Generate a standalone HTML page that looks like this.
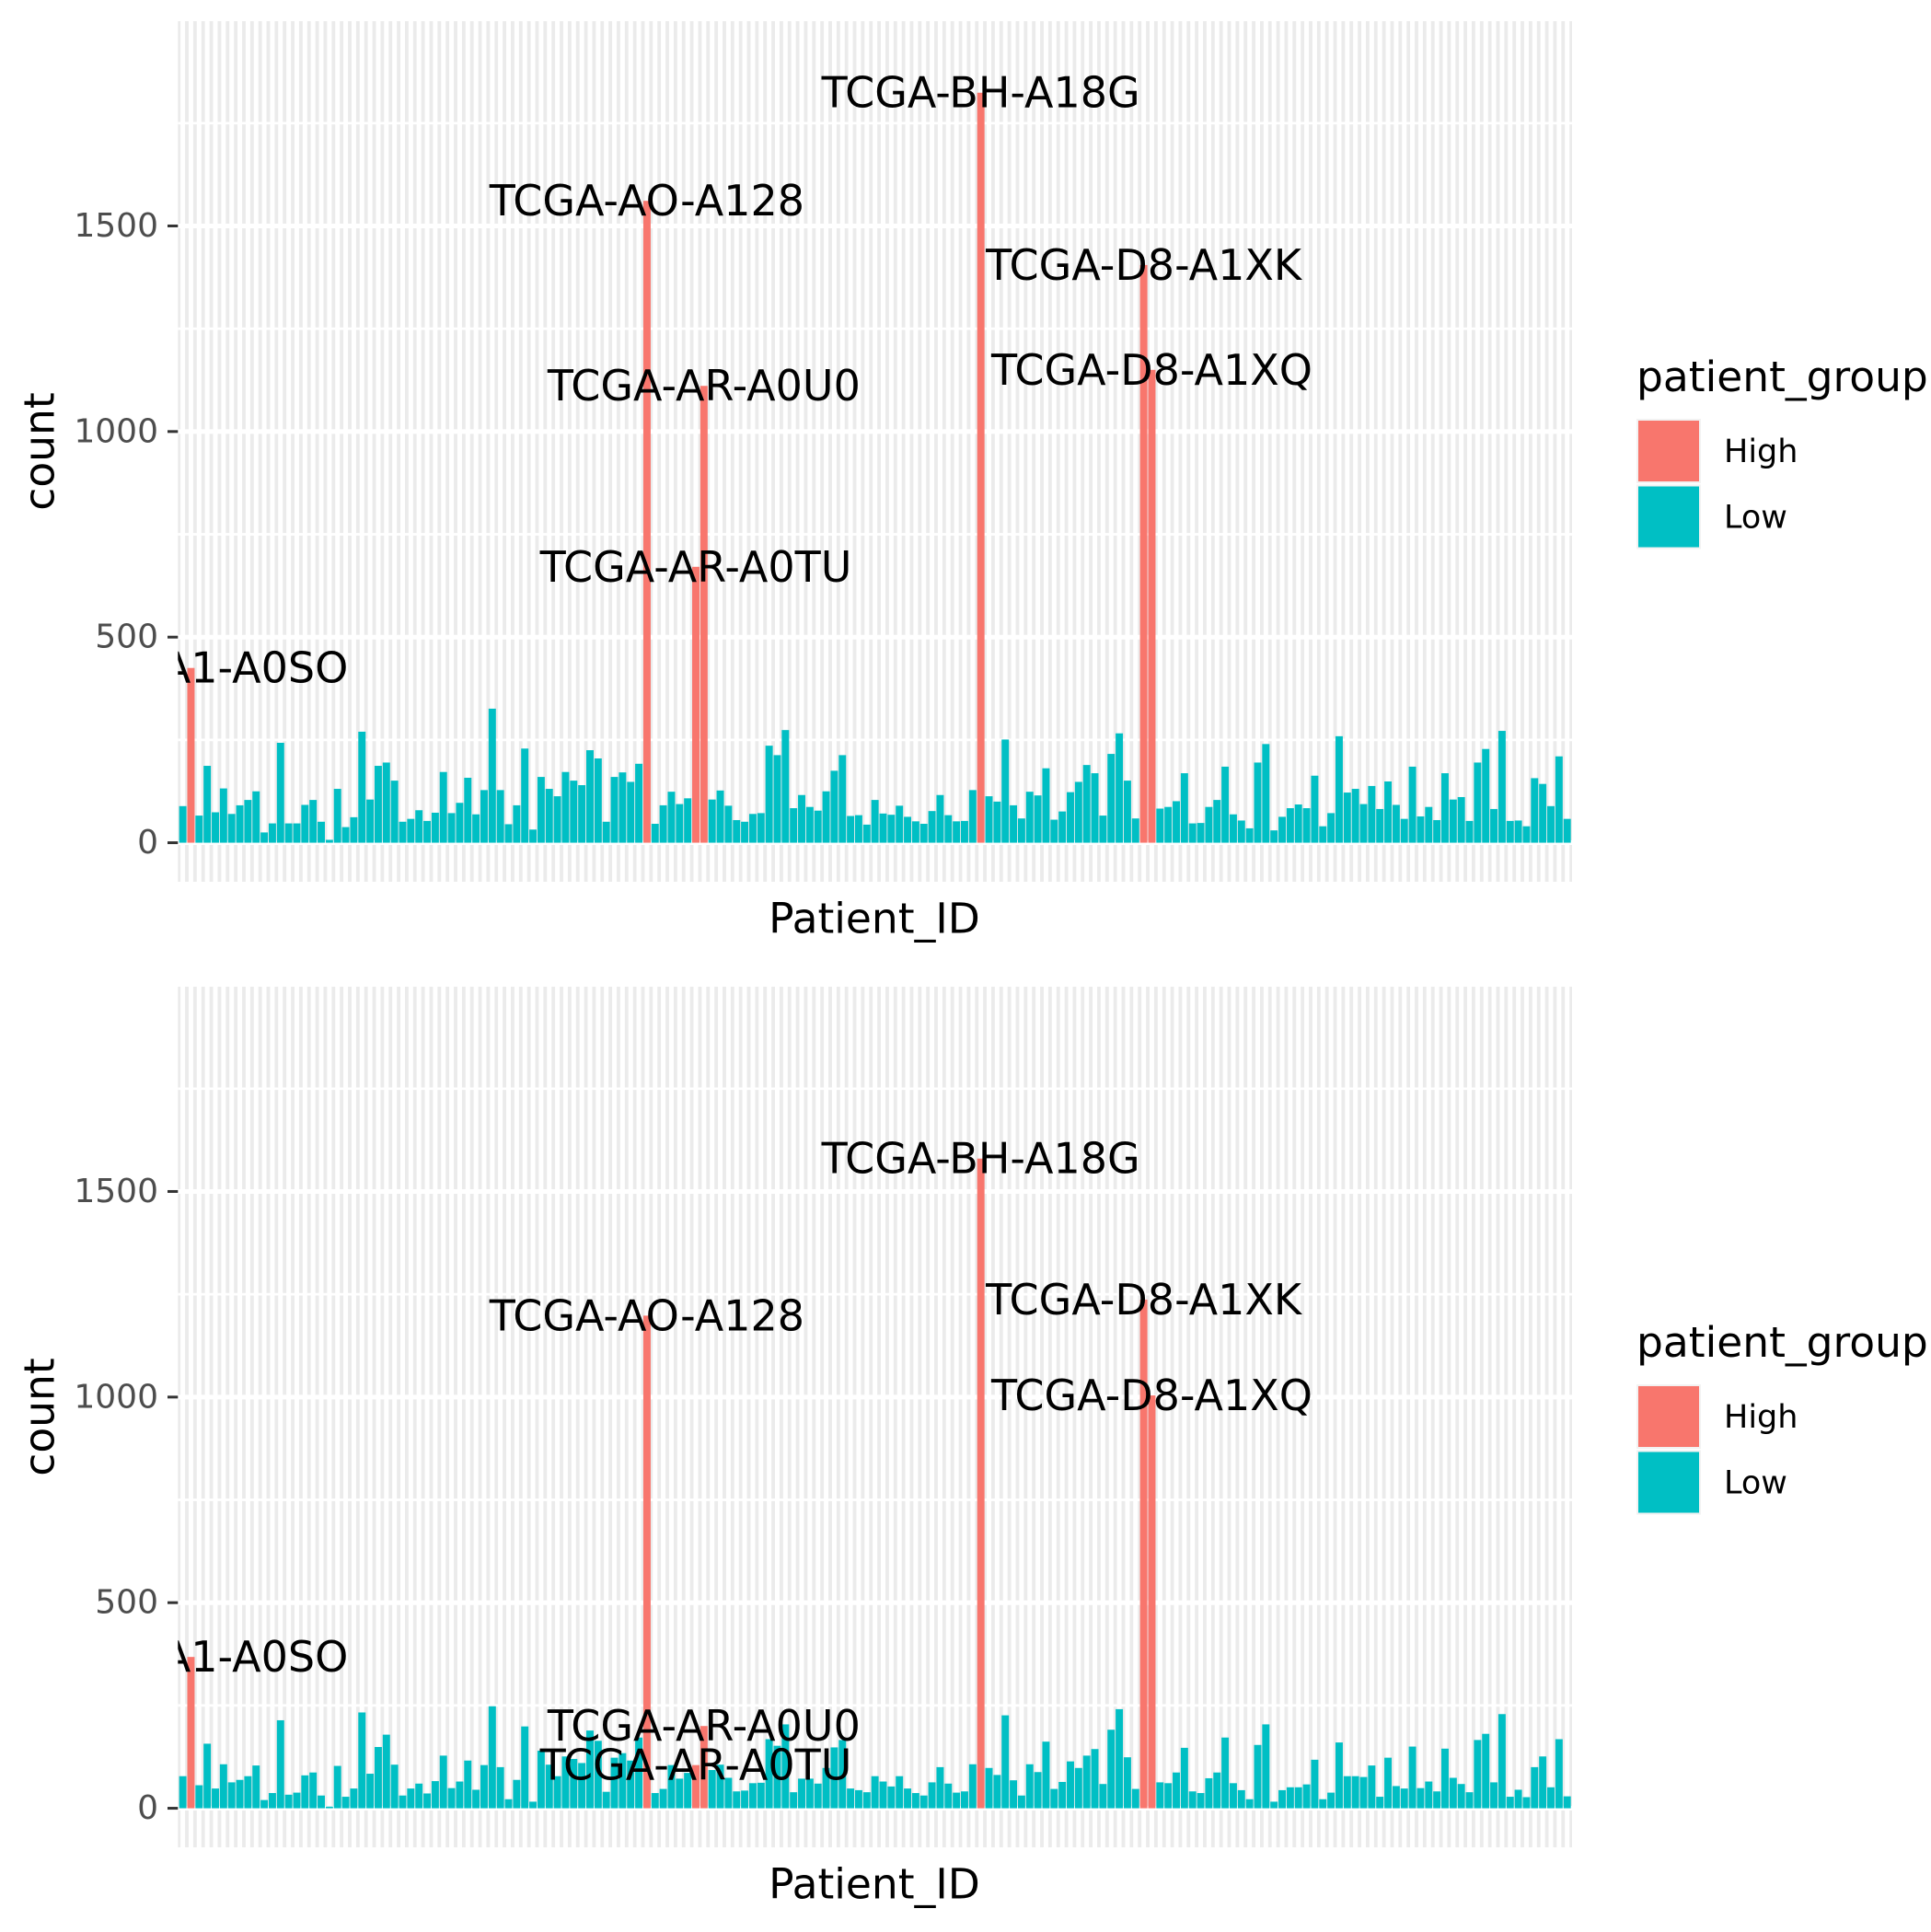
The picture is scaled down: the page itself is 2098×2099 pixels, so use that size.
<!DOCTYPE html>
<html><head><meta charset="utf-8"><style>
html,body{margin:0;padding:0;background:#fff;}
svg{display:block;font-family:"DejaVu Sans","Liberation Sans",sans-serif;}
</style></head>
<body>
<svg id="chart" width="2098" height="2099" viewBox="0 0 2098 2099" xmlns="http://www.w3.org/2000/svg"></svg>
<script>
const topCounts = [89,425,66,187,74,132,70,91,104,125,25,47,243,47,47,92,104,51,7,131,38,62,270,105,187,195,151,51,58,79,53,73,172,72,97,158,69,128,326,128,45,91,229,32,160,131,113,172,151,140,225,205,51,160,171,148,192,1561,46,91,124,94,108,671,1111,105,127,90,55,51,70,72,236,213,274,84,116,87,78,125,175,213,65,67,44,104,71,68,90,63,52,46,77,116,67,52,53,128,1824,113,100,251,91,59,124,115,181,56,76,123,148,189,169,66,216,266,151,59,1405,1150,83,87,101,169,47,48,87,104,185,69,54,35,195,240,30,63,84,93,84,163,40,72,259,122,131,94,138,82,149,92,58,185,64,87,55,169,105,111,53,195,228,82,272,53,54,40,157,143,89,210,58];
const bottomCounts = [78,368,56,157,48,107,63,69,78,104,20,37,214,33,38,80,87,31,4,103,28,48,233,84,149,179,106,31,48,60,36,66,128,49,65,116,45,105,248,100,22,69,199,16,140,106,78,126,120,110,189,164,40,123,134,116,172,1198,37,47,105,72,86,105,200,93,106,74,41,43,61,62,168,152,204,39,72,72,60,98,148,166,48,44,39,78,65,53,78,48,37,31,63,100,60,38,41,107,1580,98,81,226,68,31,107,88,162,47,64,114,98,128,144,59,191,241,124,47,1237,1004,63,61,87,147,41,37,73,87,172,61,44,22,154,204,16,44,51,51,58,118,22,38,160,78,78,76,104,28,123,54,48,150,49,65,41,145,74,59,39,166,181,63,229,28,45,27,100,126,51,168,29];
const highIndices = [2,58,64,65,99,119,120];
const labelIndices = [2,58,64,65,99,119,120];
const labelNames = ["TCGA-A1-A0SO","TCGA-AO-A128","TCGA-AR-A0TU","TCGA-AR-A0U0","TCGA-BH-A18G","TCGA-D8-A1XK","TCGA-D8-A1XQ"];
const yTicks = [0,500,1000,1500];
const yMinor = [250,750,1250,1750];
const groupNames = ["High","Low"];

const NS = "http://www.w3.org/2000/svg";
const svg = document.getElementById('chart');
const PX0 = 193.3, PX1 = 1708, PH = 935;
const N = topCounts.length;
const YMIN = -95, YMAX = 1998;
const COLORS = {High:"#F8766D", Low:"#00BFC4"};
const step = (PX1 - PX0) / (N - 1 + 1.2);
function xScale(i){ return PX0 + (i + 0.6) * step; }
function yScale(v, top){ return top + PH - (v - YMIN) / (YMAX - YMIN) * PH; }
function mk(tag, attrs, parent){
  const e = document.createElementNS(NS, tag);
  for (const k in attrs) e.setAttribute(k, attrs[k]);
  (parent || svg).appendChild(e);
  return e;
}

function drawPanel(counts, top, idx){
  const g = mk('g', {});
  
  
  const clipId = 'clip' + idx;
  const cp = mk('clipPath', {id: clipId}, g);
  mk('rect', {x: PX0, y: top, width: PX1 - PX0, height: PH}, cp);
  const bg = mk('rect', {x: PX0, y: top, width: PX1 - PX0, height: PH, fill: '#EBEBEB'}, g);
  
  
  yMinor.forEach(v => {
    const l = mk('line', {x1: PX0, x2: PX1, y1: yScale(v, top), y2: yScale(v, top), stroke: '#fff', 'stroke-width': 2.7}, g);
    
    
  });
  yTicks.forEach(v => {
    const l = mk('line', {x1: PX0, x2: PX1, y1: yScale(v, top), y2: yScale(v, top), stroke: '#fff', 'stroke-width': 5}, g);
    
    
  });
  for (let i = 0; i < N; i++){
    const l = mk('line', {x1: xScale(i), x2: xScale(i), y1: top, y2: top + PH, stroke: '#fff', 'stroke-width': 5}, g);
    
    
  }
  for (let i = 0; i < N; i++){
    const grp = highIndices.includes(i + 1) ? 'High' : 'Low';
    const bw = step * 0.9;
    const y0 = yScale(0, top), y1 = yScale(counts[i], top);
    const r = mk('rect', {x: xScale(i) - bw / 2, y: Math.min(y0, y1), width: bw, height: Math.abs(y0 - y1), fill: COLORS[grp]}, g);
    
    
  }
  const lg = mk('g', {'clip-path': 'url(#' + clipId + ')'}, g);
  labelIndices.forEach((ix, k) => {
    const t = mk('text', {x: xScale(ix - 1), y: yScale(counts[ix - 1], top), 'font-size': 46, 'text-anchor': 'middle', 'dominant-baseline': 'central', fill: '#000'}, lg);
    t.textContent = labelNames[k];
    
    
  });
  yTicks.forEach(v => {
    const y = yScale(v, top);
    const tk = mk('line', {x1: 182, x2: PX0, y1: y, y2: y, stroke: '#333', 'stroke-width': 3}, g);
    
    
    const t = mk('text', {x: 172, y: y, 'font-size': 36, 'text-anchor': 'end', 'dominant-baseline': 'central', fill: '#4D4D4D'}, g);
    t.textContent = v;
    
    
  });
  const yt = mk('text', {x: 0, y: 0, 'font-size': 45.5, 'text-anchor': 'middle', 'dominant-baseline': 'central', fill: '#000', transform: 'translate(43,' + (top + PH / 2) + ') rotate(-90)'}, g);
  yt.textContent = 'count';
  
  
  const xt = mk('text', {x: 950, y: top + PH + 40, 'font-size': 45.5, 'text-anchor': 'middle', 'dominant-baseline': 'central', fill: '#000'}, g);
  xt.textContent = 'Patient_ID';
  
  
  const off = top - 23;
  const leg = mk('g', {}, g);
  
  
  const lt = mk('text', {x: 1778, y: 425 + off, 'font-size': 45.5, fill: '#000'}, leg);
  lt.textContent = 'patient_group';
  
  
  groupNames.forEach((gname, k) => {
    const ky = 455 + off + k * 71.5;
    const kb = mk('rect', {x: 1778, y: ky, width: 70, height: 70, fill: '#F2F2F2'}, leg);
    
    
    const ks = mk('rect', {x: 1780, y: ky + 2, width: 66, height: 66, fill: COLORS[gname]}, leg);
    
    
    const kt = mk('text', {x: 1873, y: ky + 36, 'font-size': 35, 'dominant-baseline': 'central', fill: '#000'}, leg);
    kt.textContent = gname;
    
    
  });
}
drawPanel(topCounts, 23, 'top');
drawPanel(bottomCounts, 1072, 'bottom');
</script>
</body></html>
